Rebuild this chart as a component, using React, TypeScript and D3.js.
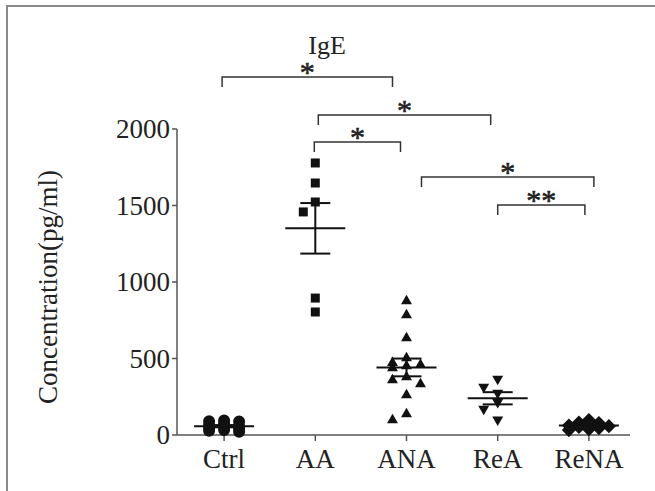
import React from 'react';
import * as d3 from 'd3';

// groups on the x axis
const categories = ['Ctrl', 'AA', 'ANA', 'ReA', 'ReNA'];

const ctrlValues = [95, 90, 88, 75, 66, 58, 52, 45, 40, 32, 28, 22];
const aaValues = [1778, 1647, 1523, 1458, 895, 804];
const anaValues = [876, 784, 634, 503, 471, 458, 451, 438, 379, 359, 333, 261, 137, 98];
const reaValues = [366, 314, 275, 215, 170, 100];
const renaValues = [98, 82, 78, 70, 62, 58, 52, 45, 38, 32];

const yTicks = [0, 500, 1000, 1500, 2000];

// significance brackets: group indices, label, bracket height (pg/ml)
const comparisons = [
  { from: 0, to: 2, label: '*', level: 2340, dx: [-2, -14] },
  { from: 1, to: 3, label: '*', level: 2092, dx: [3, -7] },
  { from: 1, to: 2, label: '*', level: 1915, dx: [-1, -6] },
  { from: 2, to: 4, label: '*', level: 1686, dx: [15, 5] },
  { from: 3, to: 4, label: '**', level: 1503, dx: [0, -4] },
];

const font = '"Liberation Serif", "Times New Roman", serif';

// simple column dodge: put each point in the free column closest to centre,
// or the least crowded one if every column is taken
function dodge(values: number[], y: d3.ScaleLinear<number, number>, step: number, cols: number, vgap: number) {
  const placed: { x: number; y: number }[] = [];
  const half = (cols - 1) / 2;
  const cands = d3.range(cols).map((i) => (i - half) * step)
    .sort((a, b) => Math.abs(a) - Math.abs(b) || a - b);
  for (const v of [...values].sort((a, b) => b - a)) {
    const py = y(v);
    let best = cands[0], bestD = -1;
    for (const c of cands) {
      const near = placed.filter((p) => Math.abs(p.x - c) < step * 0.5);
      const d = near.length ? d3.min(near, (p) => Math.abs(p.y - py)) as number : Infinity;
      if (d >= vgap) { best = c; bestD = Infinity; break; }
      if (d > bestD) { bestD = d; best = c; }
    }
    placed.push({ x: best, y: py });
  }
  return placed;
}

export default function App() {
  const width = 655, height = 491;
  const x = d3.scalePoint<string>().domain(categories).range([178.5, 634.5]).padding(0.5);
  const y = d3.scaleLinear().domain([0, 2000]).range([435, 129]);
  const axisX0 = 177, axisX1 = 630;

  const groups = [
    { name: 'Ctrl', values: ctrlValues, shape: d3.symbolCircle, size: 113, rot: 0, step: 15, cols: 3, vgap: 3 },
    { name: 'AA', values: aaValues, shape: d3.symbolSquare, size: 81, rot: 0, step: 12, cols: 3, vgap: 10 },
    { name: 'ANA', values: anaValues, shape: d3.symbolTriangle, size: 52, rot: 0, step: 14, cols: 3, vgap: 9 },
    { name: 'ReA', values: reaValues, shape: d3.symbolTriangle, size: 52, rot: 180, step: 14, cols: 3, vgap: 9 },
    { name: 'ReNA', values: renaValues, shape: d3.symbolSquare, size: 100, rot: 45, step: 10, cols: 5, vgap: 4 },
  ];

  return (
    <svg width={width} height={height} style={{ position: 'absolute', left: 0, top: 0, background: '#fff' }}>
      <rect x={7} y={6} width={700} height={600} fill="none" stroke="#8a8a8a" strokeWidth={2} />

      <text x={327} y={54} textAnchor="middle" fontFamily={font} fontSize={26} fill="#222">IgE</text>

      {/* y axis */}
      <line x1={axisX0} x2={axisX0} y1={y(2000)} y2={y(0)} stroke="#555" strokeWidth={1.5} />
      {yTicks.map((t) => (
        <g key={t} transform={`translate(0,${y(t)})`}>
          <line x1={axisX0 - 5} x2={axisX0} stroke="#555" strokeWidth={1.5} />
          <text x={axisX0 - 7} dy="0.35em" textAnchor="end" fontFamily={font} fontSize={27} fill="#222">{t}</text>
        </g>
      ))}
      <text transform={`translate(57,287) rotate(-90)`} textAnchor="middle" fontFamily={font} fontSize={27} fill="#222">
        Concentration(pg/ml)
      </text>

      {/* x axis */}
      <line x1={axisX0} x2={axisX1} y1={y(0)} y2={y(0)} stroke="#555" strokeWidth={1.5} />
      {categories.map((c) => (
        <g key={c} transform={`translate(${x(c)},${y(0)})`}>
          <line y1={0} y2={6} stroke="#555" strokeWidth={1.5} />
          <text y={33} textAnchor="middle" fontFamily={font} fontSize={27} fill="#222">{c}</text>
        </g>
      ))}

      {/* points + mean ± SEM */}
      {groups.map((g) => {
        const cx = x(g.name) as number;
        const mean = d3.mean(g.values) as number;
        const sem = (d3.deviation(g.values) as number) / Math.sqrt(g.values.length);
        const pts = dodge(g.values, y, g.step, g.cols, g.vgap);
        const path = d3.symbol().type(g.shape).size(g.size)() as string;
        return (
          <g key={g.name}>
            {pts.map((p, i) => (
              <path key={i} d={path} fill="#111" transform={`translate(${cx + p.x},${p.y}) rotate(${g.rot})`} />
            ))}
            <line x1={cx - 30} x2={cx + 30} y1={y(mean)} y2={y(mean)} stroke="#111" strokeWidth={2} />
            <line x1={cx} x2={cx} y1={y(mean + sem)} y2={y(mean - sem)} stroke="#111" strokeWidth={2} />
            <line x1={cx - 15} x2={cx + 15} y1={y(mean + sem)} y2={y(mean + sem)} stroke="#111" strokeWidth={2} />
            <line x1={cx - 15} x2={cx + 15} y1={y(mean - sem)} y2={y(mean - sem)} stroke="#111" strokeWidth={2} />
          </g>
        );
      })}

      {/* significance brackets */}
      {comparisons.map((c, i) => {
        const x1 = (x(categories[c.from]) as number) + c.dx[0];
        const x2 = (x(categories[c.to]) as number) + c.dx[1];
        const yy = y(c.level);
        return (
          <g key={i}>
            <path d={`M${x1},${yy + 10}V${yy}H${x2}V${yy + 10}`} fill="none" stroke="#333" strokeWidth={1.5} />
            <text x={(x1 + x2) / 2} y={yy + 5} textAnchor="middle" fontFamily={font} fontSize={30}
              fill="#222" stroke="#222" strokeWidth={0.6}>{c.label}</text>
          </g>
        );
      })}
    </svg>
  );
}
